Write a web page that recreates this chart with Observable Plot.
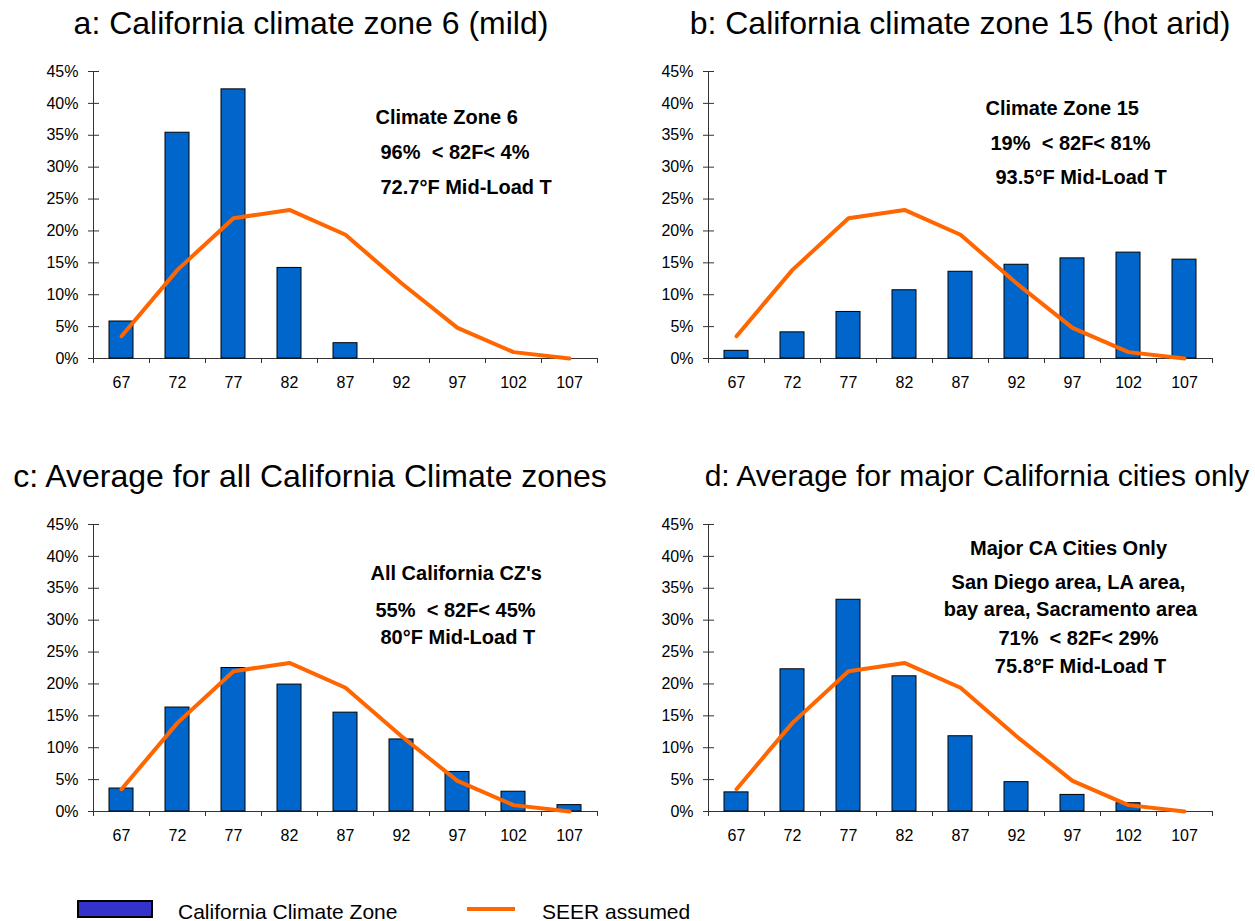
<!DOCTYPE html>
<html>
<head>
<meta charset="utf-8">
<script src="https://cdn.jsdelivr.net/npm/d3@7"></script>
<script src="https://cdn.jsdelivr.net/npm/@observablehq/plot@0.6"></script>
<style>
  html, body { margin: 0; padding: 0; background: #fff; }
  body { width: 1255px; height: 921px; overflow: hidden; position: relative; font-family: "Liberation Sans", Arial, sans-serif; color: #000; }
  .panel { position: absolute; }
  .title { position: absolute; font-size: 32px; white-space: nowrap; transform: translate(-50%, -50%); line-height: 1; }
  svg text { white-space: pre; }
  .legend-item { position: absolute; font-size: 21px; white-space: nowrap; line-height: 1; }
</style>
</head>
<body>
<script>
// ---------- data ----------
const temps = ["67", "72", "77", "82", "87", "92", "97", "102", "107"];
const zone6 = [0.058, 0.354, 0.422, 0.142, 0.024, 0, 0, 0, 0];
const zone15 = [0.012, 0.041, 0.073, 0.107, 0.136, 0.147, 0.157, 0.166, 0.155];
const allZones = [0.036, 0.163, 0.225, 0.199, 0.155, 0.113, 0.062, 0.031, 0.010];
const majorCities = [0.030, 0.223, 0.332, 0.212, 0.118, 0.046, 0.026, 0.013, 0];
const seerAssumed = [0.035, 0.139, 0.220, 0.233, 0.194, 0.118, 0.048, 0.010, 0.000];
const yTicks = [0, 0.05, 0.10, 0.15, 0.20, 0.25, 0.30, 0.35, 0.40, 0.45];

const titles = [
  "a: California climate zone 6 (mild)",
  "b: California climate zone 15 (hot arid)",
  "c: Average for all California Climate zones",
  "d: Average for major California cities only"
];
const notesA = ["Climate Zone 6", "96%  < 82F< 4%", "72.7°F Mid-Load T"];
const notesB = ["Climate Zone 15", "19%  < 82F< 81%", "93.5°F Mid-Load T"];
const notesC = ["All California CZ's", "55%  < 82F< 45%", "80°F Mid-Load T"];
const notesD = ["Major CA Cities Only", "San Diego area, LA area,", "bay area, Sacramento area", "71%  < 82F< 29%", "75.8°F Mid-Load T"];
const legendLabels = ["California Climate Zone", "SEER assumed"];

// ---------- layout ----------
const W = 620, H = 348, mL = 93, mR = 23, mT = 21, mB = 40;
const plotW = W - mL - mR, plotH = H - mT - mB;
const step = plotW / temps.length;
const barColor = "#0066CC", lineColor = "#FF6600", axisColor = "#333";

const panels = [
  {left: 0,   top: 50,  values: zone6,       title: titles[0], tx: 311, ty: 23, tsize: 32,
   notes: notesA, anchor: "start",  pos: [[375, 117], [380, 152], [380, 187]]},
  {left: 615, top: 50,  values: zone15,      title: titles[1], tx: 960, ty: 23, tsize: 32,
   notes: notesB, anchor: "start",  pos: [[985, 108], [990, 143], [995, 177]]},
  {left: 0,   top: 503, values: allZones,    title: titles[2], tx: 310, ty: 476, tsize: 32,
   notes: notesC, anchor: "start",  pos: [[370, 573], [375, 610], [380, 637]]},
  {left: 615, top: 503, values: majorCities, title: titles[3], tx: 977, ty: 476, tsize: 30,
   notes: notesD, anchor: "middle", pos: [[1068, 548], [1068, 582], [1070, 609], [1078, 638], [1080, 666]]}
];

for (const p of panels) {
  const data = temps.map((t, i) => ({t, v: p.values[i], s: seerAssumed[i]}));
  const noteMarks = p.notes.map((txt, i) => Plot.text([txt], {
    text: d => d,
    frameAnchor: "top-left",
    dx: p.pos[i][0] - (p.left + mL),
    dy: p.pos[i][1] - (p.top + mT),
    textAnchor: p.anchor,
    lineAnchor: "middle",
    fontSize: 20,
    fontWeight: "bold",
    fill: "#000"
  }));
  const chart = Plot.plot({
    width: W, height: H,
    marginLeft: mL, marginRight: mR, marginTop: mT, marginBottom: mB,
    x: {type: "band", domain: temps, paddingInner: 0.58, paddingOuter: 0.29},
    y: {domain: [0, 0.45]},
    style: {fontFamily: "Liberation Sans, Arial, sans-serif", fontSize: "16px", color: "#000", background: "transparent", overflow: "visible"},
    marks: [
      Plot.ruleY([0], {stroke: axisColor}),
      Plot.ruleX([temps[0]], {dx: -step / 2, stroke: axisColor}),
      Plot.ruleX(temps, {dx: -step / 2, insetTop: plotH, insetBottom: -5, stroke: axisColor}),
      Plot.ruleX([temps[temps.length - 1]], {dx: step / 2, insetTop: plotH, insetBottom: -5, stroke: axisColor}),
      Plot.ruleY(yTicks, {insetRight: plotW - 6, stroke: axisColor}),
      Plot.axisY({ticks: yTicks, tickFormat: d => Math.round(d * 100) + "%", tickSize: 5, tickPadding: 10, label: null, stroke: axisColor, fontSize: 16}),
      Plot.axisX({tickSize: 0, tickPadding: 18, label: null, fontSize: 16}),
      Plot.barY(data, {x: "t", y: "v", fill: barColor, stroke: "#000", strokeWidth: 1}),
      Plot.line(data, {x: "t", y: "s", stroke: lineColor, strokeWidth: 4}),
      ...noteMarks
    ]
  });
  const div = document.createElement("div");
  div.className = "panel";
  div.style.left = p.left + "px";
  div.style.top = p.top + "px";
  div.appendChild(chart);
  document.body.appendChild(div);

  const t = document.createElement("div");
  t.className = "title";
  t.style.left = p.tx + "px";
  t.style.top = p.ty + "px";
  t.style.fontSize = p.tsize + "px";
  t.textContent = p.title;
  document.body.appendChild(t);
}

// ---------- legend ----------
const sw = document.createElement("div");
Object.assign(sw.style, {position: "absolute", left: "77px", top: "900px", width: "76px", height: "18px",
  background: "#3333CC", border: "2px solid #000", boxSizing: "border-box"});
document.body.appendChild(sw);
const l1 = document.createElement("div");
l1.className = "legend-item";
Object.assign(l1.style, {left: "178px", top: "901px"});
l1.textContent = legendLabels[0];
document.body.appendChild(l1);
const ln = document.createElement("div");
Object.assign(ln.style, {position: "absolute", left: "467px", top: "907px", width: "48px", height: "4px", background: lineColor});
document.body.appendChild(ln);
const l2 = document.createElement("div");
l2.className = "legend-item";
Object.assign(l2.style, {left: "542px", top: "901px"});
l2.textContent = legendLabels[1];
document.body.appendChild(l2);
</script>
</body>
</html>
